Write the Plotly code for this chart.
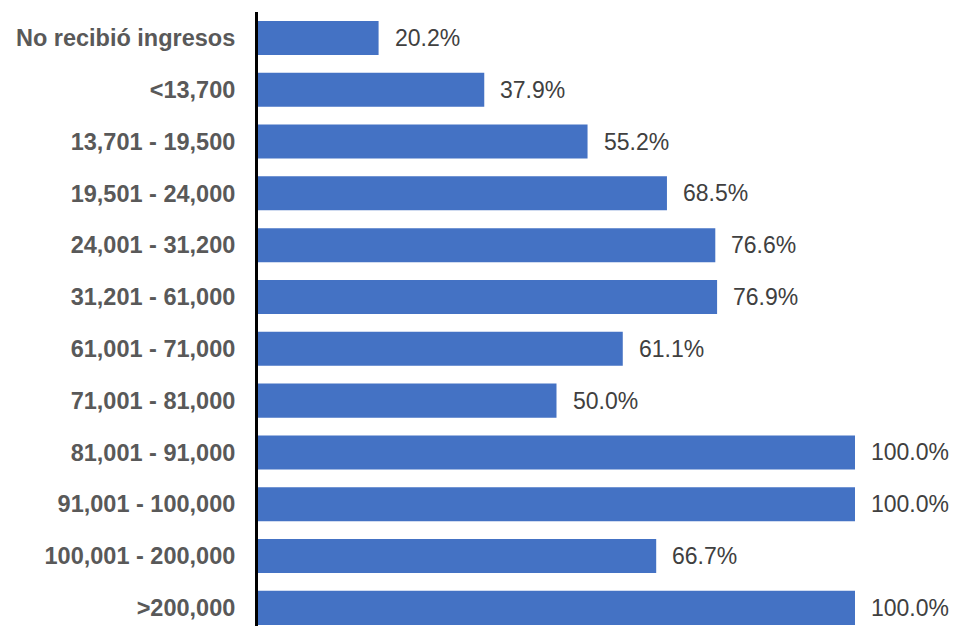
import plotly.graph_objects as go

# Income brackets and share (%) for each bracket
categories = [
    "No recibió ingresos", "<13,700", "13,701 - 19,500", "19,501 - 24,000",
    "24,001 - 31,200", "31,201 - 61,000", "61,001 - 71,000", "71,001 - 81,000",
    "81,001 - 91,000", "91,001 - 100,000", "100,001 - 200,000", ">200,000",
]
values = [20.2, 37.9, 55.2, 68.5, 76.6, 76.9, 61.1, 50.0, 100.0, 100.0, 66.7, 100.0]
value_labels = [f"{v:.1f}%" for v in values]

BAR_COLOR = "#4472C4"
LABEL_COLOR = "#595959"
VALUE_COLOR = "#404040"
FONT = "Arial, Liberation Sans, sans-serif"

fig = go.Figure(
    go.Bar(
        x=values,
        y=categories,
        orientation="h",
        marker=dict(color=BAR_COLOR, line=dict(width=0)),
        hoverinfo="skip",
    )
)

# Value labels to the right of each bar
for cat, v, lab in zip(categories, values, value_labels):
    fig.add_annotation(
        x=v, y=cat, xref="x", yref="y",
        text=lab, showarrow=False,
        xanchor="left", yanchor="middle", xshift=14,
        font=dict(family=FONT, size=23, color=VALUE_COLOR),
    )

fig.update_layout(
    width=955,
    height=626,
    margin=dict(l=258, r=0, t=12, b=0),
    paper_bgcolor="white",
    plot_bgcolor="white",
    bargap=0.343,
    showlegend=False,
    xaxis=dict(
        range=[0, 116.75],
        showgrid=False,
        zeroline=False,
        showticklabels=False,
        showline=False,
    ),
    yaxis=dict(
        categoryorder="array",
        categoryarray=categories,
        range=[11.35, -0.5],
        showgrid=False,
        zeroline=False,
        showline=True,
        linecolor="black",
        linewidth=3,
        ticks="",
        ticklabelstandoff=15,
        tickfont=dict(family=FONT, size=23.5, color=LABEL_COLOR, weight="bold"),
    ),
)

fig.write_html("out.html")
